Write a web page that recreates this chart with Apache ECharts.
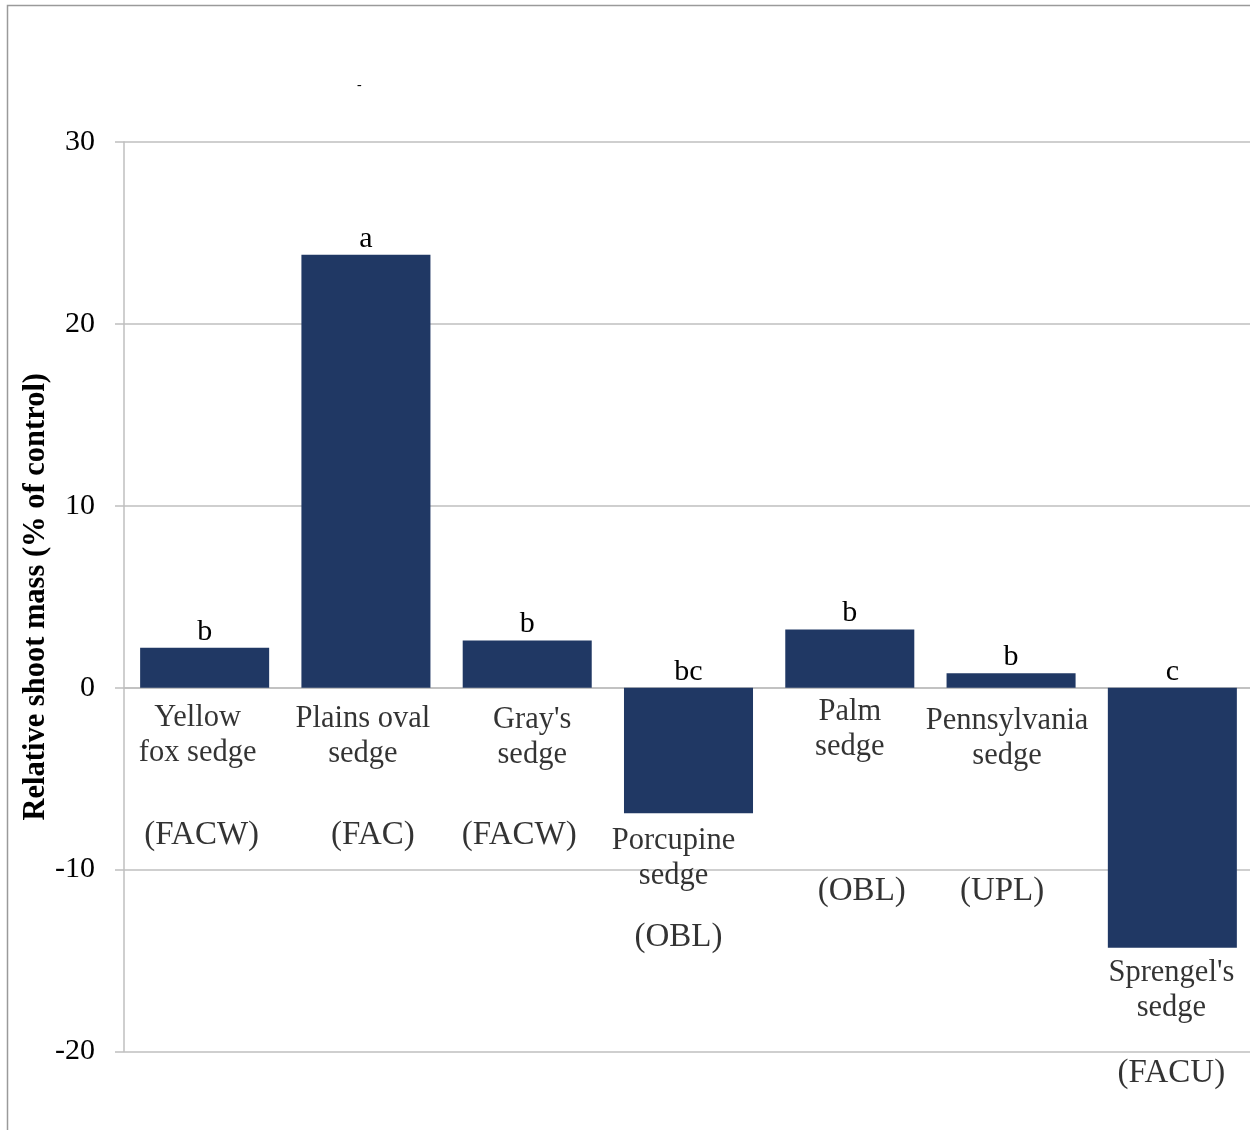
<!DOCTYPE html>
<html>
<head>
<meta charset="utf-8">
<script src="https://cdn.jsdelivr.net/npm/echarts@6/dist/echarts.min.js"></script>
<style>
  html, body { margin: 0; padding: 0; background: #ffffff; overflow: hidden; }
  #chart { width: 1256px; height: 1130px; }
</style>
</head>
<body>
<div id="chart"></div>
<script>
// Sedge species and their response in shoot mass
const categories = [
  'Yellow\nfox sedge',
  'Plains oval\nsedge',
  "Gray's\nsedge",
  'Porcupine\nsedge',
  'Palm\nsedge',
  'Pennsylvania\nsedge',
  "Sprengel's\nsedge"
];
const shootMass = [2.2, 23.8, 2.6, -6.9, 3.2, 0.8, -14.3];
const groupLetters = ['b', 'a', 'b', 'bc', 'b', 'b', 'c'];
const wetlandStatus = ['(FACW)', '(FAC)', '(FACW)', '(OBL)', '(OBL)', '(UPL)', '(FACU)'];

// Label placement relative to the lower end of each bar (or the zero line)
const nameNudge = [[-7, 30], [-3, 31], [5, 32], [-15, 28], [0, 24], [-4, 33], [-1, 25]];
const statusNudge = [[-3, 148], [7, 148], [-8, 148], [-10, 124], [12, 204], [-9, 204], [-1, 126]];

const FONT = '"Liberation Serif", "Times New Roman", serif';
const BAR_COLOR = '#203864';
const GRID_COLOR = '#bfbfbf';

const anchorData = categories.map((c, i) => [i, Math.min(0, shootMass[i])]);

const option = {
  animation: false,
  backgroundColor: '#ffffff',
  textStyle: { fontFamily: FONT },
  grid: { left: 124, top: 142, width: 1129, bottom: 1130 - 1051.5, containLabel: false },
  xAxis: {
    type: 'category',
    data: categories,
    axisLine: { show: true, onZero: true, lineStyle: { color: GRID_COLOR, width: 1.5 } },
    axisTick: { show: false },
    axisLabel: { show: false },
    splitLine: { show: false }
  },
  yAxis: {
    type: 'value',
    min: -20,
    max: 30,
    interval: 10,
    name: 'Relative shoot mass (% of control)',
    nameLocation: 'middle',
    nameGap: 72,
    nameRotate: 90,
    nameMoveOverlap: false,
    nameTextStyle: { fontFamily: FONT, fontSize: 30.5, fontWeight: 'bold', color: '#000000' },
    axisLine: { show: true, lineStyle: { color: GRID_COLOR, width: 1.5 } },
    axisTick: { show: true, length: 9, lineStyle: { color: GRID_COLOR, width: 1.5 } },
    axisLabel: { fontFamily: FONT, fontSize: 30, color: '#000000', margin: 29 },
    splitLine: { show: true, lineStyle: { color: GRID_COLOR, width: 1.5 } }
  },
  series: [
    {
      type: 'bar',
      data: shootMass,
      barWidth: '80%',
      itemStyle: { color: BAR_COLOR },
      label: {
        show: true,
        position: 'top',
        distance: 1,
        fontFamily: FONT,
        fontSize: 30,
        color: '#000000',
        formatter: p => groupLetters[p.dataIndex]
      },
      z: 3
    },
    {
      type: 'scatter',
      symbolSize: 0,
      silent: true,
      data: anchorData.map((d, i) => ({
        value: d,
        label: { offset: [nameNudge[i][0], nameNudge[i][1] + 17.5] }
      })),
      label: {
        show: true,
        position: 'inside',
        align: 'center',
        verticalAlign: 'middle',
        fontFamily: FONT,
        fontSize: 30.5,
        lineHeight: 35,
        color: '#000000',
        formatter: p => categories[p.dataIndex]
      },
      z: 4
    },
    {
      type: 'scatter',
      symbolSize: 0,
      silent: true,
      data: anchorData.map((d, i) => ({
        value: d,
        label: { offset: statusNudge[i] }
      })),
      label: {
        show: true,
        position: 'inside',
        align: 'center',
        verticalAlign: 'middle',
        fontFamily: FONT,
        fontSize: 33,
        color: '#000000',
        formatter: p => wetlandStatus[p.dataIndex]
      },
      z: 4
    }
  ],
  graphic: [
    {
      type: 'rect',
      shape: { x: 7.5, y: 5.5, width: 1300, height: 1200 },
      style: { fill: 'none', stroke: '#9a9a9a', lineWidth: 1.5 },
      silent: true,
      z: 0
    },
    {
      type: 'text',
      left: 357,
      top: 78,
      style: { text: '-', font: '14px ' + FONT, fill: '#000000' },
      silent: true
    }
  ]
};

const chart = echarts.init(document.getElementById('chart'), null, { renderer: 'canvas' });
chart.setOption(option);
</script>
</body>
</html>
